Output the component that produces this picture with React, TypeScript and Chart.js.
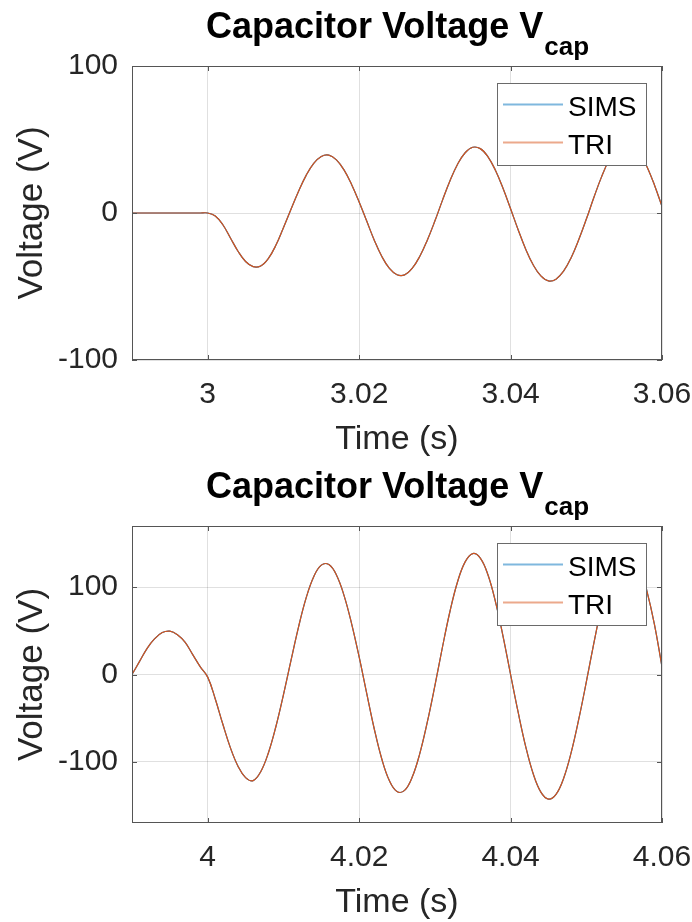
import React, { useEffect, useRef } from "react";
import { Chart, registerables } from "chart.js";
Chart.register(...registerables);

const FONT = "Arial, 'Liberation Sans', Helvetica, sans-serif";

const TITLE_MAIN = "Capacitor Voltage V";
const TITLE_SUB = "cap";
const X_LABEL = "Time (s)";
const Y_LABEL = "Voltage (V)";
const SERIES_NAMES = ["SIMS", "TRI"];
const SIMS_COLOR = "#0072BD";
const TRI_COLOR = "#D95319";

// ---------- top subplot ----------
const timeTop = [
  2.990, 2.991, 2.992, 2.993, 2.994, 2.995, 2.996, 2.997, 2.998, 2.999,
  3.000, 3.001, 3.002, 3.003, 3.004, 3.005, 3.006, 3.007, 3.008, 3.009,
  3.010, 3.011, 3.012, 3.013, 3.014, 3.015, 3.016, 3.017, 3.018, 3.019,
  3.020, 3.021, 3.022, 3.023, 3.024, 3.025, 3.026, 3.027, 3.028, 3.029,
  3.030, 3.031, 3.032, 3.033, 3.034, 3.035, 3.036, 3.037, 3.038, 3.039,
  3.040, 3.041, 3.042, 3.043, 3.044, 3.045, 3.046, 3.047, 3.048, 3.049,
  3.050, 3.051, 3.052, 3.053, 3.054, 3.055, 3.056, 3.057, 3.058, 3.059,
  3.060,
];
const simsTop = [
  0, 0, 0, 0, 0, 0, 0, 0, 0, 0,
  0, -2, -8, -17, -26, -33, -36.5, -36, -31, -22,
  -10, 2.5, 14.8, 25.6, 33.8, 38.5, 39.4, 36.1, 29.3, 19.4,
  7.5, -5.5, -18.5, -29.6, -37.7, -42, -42.1, -37.7, -29.6, -18.5,
  -5.5, 8.6, 22, 33.2, 41, 44.7, 43.8, 38.4, 29.1, 16.8,
  2.9, -11.4, -24.6, -35.4, -42.8, -46.2, -45, -39.6, -30.4, -18.2,
  -4.3, 10.5, 24.4, 36, 44.1, 47.8, 46.8, 41.3, 31.7, 19.1,
  4.5,
];
const triTop = [
  0, 0, 0, 0, 0, 0, 0, 0, 0, 0,
  0, -2, -8, -17, -26, -33, -36.5, -36, -31, -22,
  -10, 2.5, 14.8, 25.6, 33.8, 38.5, 39.4, 36.1, 29.3, 19.4,
  7.5, -5.5, -18.5, -29.6, -37.7, -42, -42.1, -37.7, -29.6, -18.5,
  -5.5, 8.6, 22, 33.2, 41, 44.7, 43.8, 38.4, 29.1, 16.8,
  2.9, -11.4, -24.6, -35.4, -42.8, -46.2, -45, -39.6, -30.4, -18.2,
  -4.3, 10.5, 24.4, 36, 44.1, 47.8, 46.8, 41.3, 31.7, 19.1,
  4.5,
];
const xTicksTop = [3, 3.02, 3.04, 3.06];
const xTickLabelsTop = ["3", "3.02", "3.04", "3.06"];
const yTicksTop = [-100, 0, 100];
const yTickLabelsTop = ["-100", "0", "100"];

// ---------- bottom subplot ----------
const timeBottom = [
  3.990, 3.991, 3.992, 3.993, 3.994, 3.995, 3.996, 3.997, 3.998, 3.999,
  4.000, 4.001, 4.002, 4.003, 4.004, 4.005, 4.006, 4.007, 4.008, 4.009,
  4.010, 4.011, 4.012, 4.013, 4.014, 4.015, 4.016, 4.017, 4.018, 4.019,
  4.020, 4.021, 4.022, 4.023, 4.024, 4.025, 4.026, 4.027, 4.028, 4.029,
  4.030, 4.031, 4.032, 4.033, 4.034, 4.035, 4.036, 4.037, 4.038, 4.039,
  4.040, 4.041, 4.042, 4.043, 4.044, 4.045, 4.046, 4.047, 4.048, 4.049,
  4.050, 4.051, 4.052, 4.053, 4.054, 4.055, 4.056, 4.057, 4.058, 4.059,
  4.060,
];
const simsBottom = [
  0, 15, 30, 41, 48, 49.6, 45.5, 37, 23, 9,
  -3, -28, -57, -84, -105, -118, -121.5, -111.3, -90.1, -59.8,
  -23.3, 16.1, 54.6, 87.7, 112, 125.2, 125.8, 113.9, 90.6, 58.3,
  20.1, -21.6, -62.4, -97, -121.7, -134, -132.7, -117.7, -90.8, -54.6,
  -13, 31.2, 72.4, 106.2, 128.9, 138.4, 133.2, 114.4, 83.5, 44,
  0, -43.2, -82.5, -113.9, -134.6, -142.6, -137.3, -119, -89.5, -51.5,
  -8.8, 35.9, 77.5, 111.7, 135.1, 145.6, 142.1, 125, 95.8, 57.5,
  8.8,
];
const triBottom = [
  0, 15, 30, 41, 48, 49.6, 45.5, 37, 23, 9,
  -3, -28, -57, -84, -105, -118, -121.5, -111.3, -90.1, -59.8,
  -23.3, 16.1, 54.6, 87.7, 112, 125.2, 125.8, 113.9, 90.6, 58.3,
  20.1, -21.6, -62.4, -97, -121.7, -134, -132.7, -117.7, -90.8, -54.6,
  -13, 31.2, 72.4, 106.2, 128.9, 138.4, 133.2, 114.4, 83.5, 44,
  0, -43.2, -82.5, -113.9, -134.6, -142.6, -137.3, -119, -89.5, -51.5,
  -8.8, 35.9, 77.5, 111.7, 135.1, 145.6, 142.1, 125, 95.8, 57.5,
  8.8,
];
const xTicksBottom = [4, 4.02, 4.04, 4.06];
const xTickLabelsBottom = ["4", "4.02", "4.04", "4.06"];
const yTicksBottom = [-100, 0, 100];
const yTickLabelsBottom = ["-100", "0", "100"];

type PlotProps = {
  time: number[];
  sims: number[];
  tri: number[];
  xMin: number;
  xMax: number;
  xTicks: number[];
  xTickLabels: string[];
  yMin: number;
  yMax: number;
  yTicks: number[];
  yTickLabels: string[];
  padTop: number;
  xAxisH: number;
};

const CW = 692;
const CH = 461;
const AXIS_COLOR = "#555555";
const TEXT_COLOR = "#262626";

function makeDecor() {
  return {
    id: "decor",
    afterDraw(chart: any) {
      const { ctx, chartArea: a } = chart;
      const xs = chart.scales.x;
      const ys = chart.scales.y;
      ctx.save();
      // axes box
      ctx.strokeStyle = AXIS_COLOR;
      ctx.lineWidth = 1;
      ctx.strokeRect(a.left + 0.5, a.top + 0.5, a.right - a.left - 1, a.bottom - a.top - 1);
      // inward ticks
      const tl = 5;
      ctx.beginPath();
      xs.ticks.forEach((t: any) => {
        const px = Math.round(xs.getPixelForValue(t.value)) + 0.5;
        ctx.moveTo(px, a.bottom);
        ctx.lineTo(px, a.bottom - tl);
        ctx.moveTo(px, a.top);
        ctx.lineTo(px, a.top + tl);
      });
      ys.ticks.forEach((t: any) => {
        const py = Math.round(ys.getPixelForValue(t.value)) + 0.5;
        ctx.moveTo(a.left, py);
        ctx.lineTo(a.left + tl, py);
        ctx.moveTo(a.right, py);
        ctx.lineTo(a.right - tl, py);
      });
      ctx.stroke();

      // title with subscript
      const cx = (a.left + a.right) / 2;
      const mainFont = `bold 36px ${FONT}`;
      const subFont = `bold 26px ${FONT}`;
      ctx.font = mainFont;
      const wMain = ctx.measureText(TITLE_MAIN).width;
      ctx.font = subFont;
      const wSub = ctx.measureText(TITLE_SUB).width;
      const startX = cx - (wMain + wSub) / 2;
      const baseY = a.top - 28;
      ctx.fillStyle = "#000";
      ctx.textAlign = "left";
      ctx.textBaseline = "alphabetic";
      ctx.font = mainFont;
      ctx.fillText(TITLE_MAIN, startX, baseY);
      ctx.font = subFont;
      ctx.fillText(TITLE_SUB, startX + wMain + 1, baseY + 17);

      // x axis label
      ctx.fillStyle = TEXT_COLOR;
      ctx.font = `34px ${FONT}`;
      ctx.textAlign = "center";
      ctx.fillText(X_LABEL, cx, a.bottom + 89);

      // y axis label
      ctx.save();
      ctx.font = `35px ${FONT}`;
      ctx.translate(42, (a.top + a.bottom) / 2);
      ctx.rotate(-Math.PI / 2);
      ctx.textAlign = "center";
      ctx.textBaseline = "alphabetic";
      ctx.fillText(Y_LABEL, 0, 0);
      ctx.restore();

      // legend
      const bx = a.right - 165;
      const by = a.top + 17;
      const bw = 149;
      const bh = 82;
      ctx.fillStyle = "#fff";
      ctx.fillRect(bx, by, bw, bh);
      ctx.strokeStyle = "#6a6a6a";
      ctx.lineWidth = 1;
      ctx.strokeRect(bx + 0.5, by + 0.5, bw, bh);
      const rows = [
        { name: SERIES_NAMES[0], color: "rgba(0,114,189,0.5)", y: by + 21 },
        { name: SERIES_NAMES[1], color: "rgba(217,83,25,0.5)", y: by + 59 },
      ];
      ctx.font = `28px ${FONT}`;
      ctx.textAlign = "left";
      rows.forEach((r) => {
        ctx.strokeStyle = r.color;
        ctx.lineWidth = 2;
        ctx.beginPath();
        ctx.moveTo(bx + 6, r.y + 0.5);
        ctx.lineTo(bx + 66, r.y + 0.5);
        ctx.stroke();
        ctx.fillStyle = "#000";
        ctx.fillText(r.name, bx + 71, r.y + 12);
      });
      ctx.restore();
    },
  };
}

function Plot(p: PlotProps) {
  const ref = useRef<HTMLCanvasElement | null>(null);
  useEffect(() => {
    if (!ref.current) return;
    const simsData = p.time.map((t, i) => ({ x: t, y: p.sims[i] }));
    const triData = p.time.map((t, i) => ({ x: t, y: p.tri[i] }));
    const chart = new Chart(ref.current, {
      type: "line",
      data: {
        datasets: [
          {
            label: SERIES_NAMES[0],
            data: simsData,
            borderColor: SIMS_COLOR,
            borderWidth: 1.2,
            pointRadius: 0,
            tension: 0.4,
            fill: false,
            order: 2,
          },
          {
            label: SERIES_NAMES[1],
            data: triData,
            borderColor: TRI_COLOR,
            borderWidth: 1.2,
            pointRadius: 0,
            tension: 0.4,
            fill: false,
            order: 1,
          },
        ],
      },
      options: {
        responsive: false,
        animation: false,
        devicePixelRatio: 1,
        layout: { padding: { top: p.padTop, right: 30, left: 0, bottom: 0 } },
        plugins: {
          legend: { display: false },
          title: { display: false },
          tooltip: { enabled: false },
        },
        scales: {
          x: {
            type: "linear",
            min: p.xMin,
            max: p.xMax,
            afterBuildTicks: (s: any) => {
              s.ticks = p.xTicks.map((v) => ({ value: v }));
            },
            afterFit: (s: any) => {
              s.height = p.xAxisH;
              s.paddingLeft = 0;
              s.paddingRight = 0;
            },
            grid: { color: "rgba(0,0,0,0.12)", lineWidth: 1, drawTicks: false },
            border: { display: false },
            ticks: {
              autoSkip: false,
              maxRotation: 0,
              padding: 17,
              color: TEXT_COLOR,
              font: { family: FONT, size: 30 },
              callback: (v: any) => {
                const i = p.xTicks.findIndex((t) => Math.abs(t - Number(v)) < 1e-9);
                return i >= 0 ? p.xTickLabels[i] : "";
              },
            },
          },
          y: {
            type: "linear",
            min: p.yMin,
            max: p.yMax,
            afterBuildTicks: (s: any) => {
              s.ticks = p.yTicks.map((v) => ({ value: v }));
            },
            afterFit: (s: any) => {
              s.width = 132;
              s.paddingTop = 0;
              s.paddingBottom = 0;
            },
            grid: { color: "rgba(0,0,0,0.12)", lineWidth: 1, drawTicks: false },
            border: { display: false },
            ticks: {
              autoSkip: false,
              padding: 14,
              color: TEXT_COLOR,
              font: { family: FONT, size: 30 },
              callback: (v: any) => {
                const i = p.yTicks.findIndex((t) => Math.abs(t - Number(v)) < 1e-9);
                return i >= 0 ? p.yTickLabels[i] : "";
              },
            },
          },
        },
      },
      plugins: [makeDecor()],
    } as any);
    return () => chart.destroy();
  }, []);
  return (
    <canvas
      ref={ref}
      width={CW}
      height={CH}
      style={{ display: "block", width: CW, height: CH }}
    />
  );
}

export default function App() {
  return (
    <div
      style={{
        position: "fixed",
        left: 0,
        top: 0,
        width: 692,
        height: 922,
        background: "#fff",
        overflow: "hidden",
      }}
    >
      <Plot
        time={timeTop}
        sims={simsTop}
        tri={triTop}
        xMin={2.99}
        xMax={3.06}
        xTicks={xTicksTop}
        xTickLabels={xTickLabelsTop}
        yMin={-100}
        yMax={100}
        yTicks={yTicksTop}
        yTickLabels={yTickLabelsTop}
        padTop={66}
        xAxisH={101}
      />
      <Plot
        time={timeBottom}
        sims={simsBottom}
        tri={triBottom}
        xMin={3.99}
        xMax={4.06}
        xTicks={xTicksBottom}
        xTickLabels={xTickLabelsBottom}
        yMin={-170}
        yMax={170}
        yTicks={yTicksBottom}
        yTickLabels={yTickLabelsBottom}
        padTop={65}
        xAxisH={99}
      />
    </div>
  );
}
